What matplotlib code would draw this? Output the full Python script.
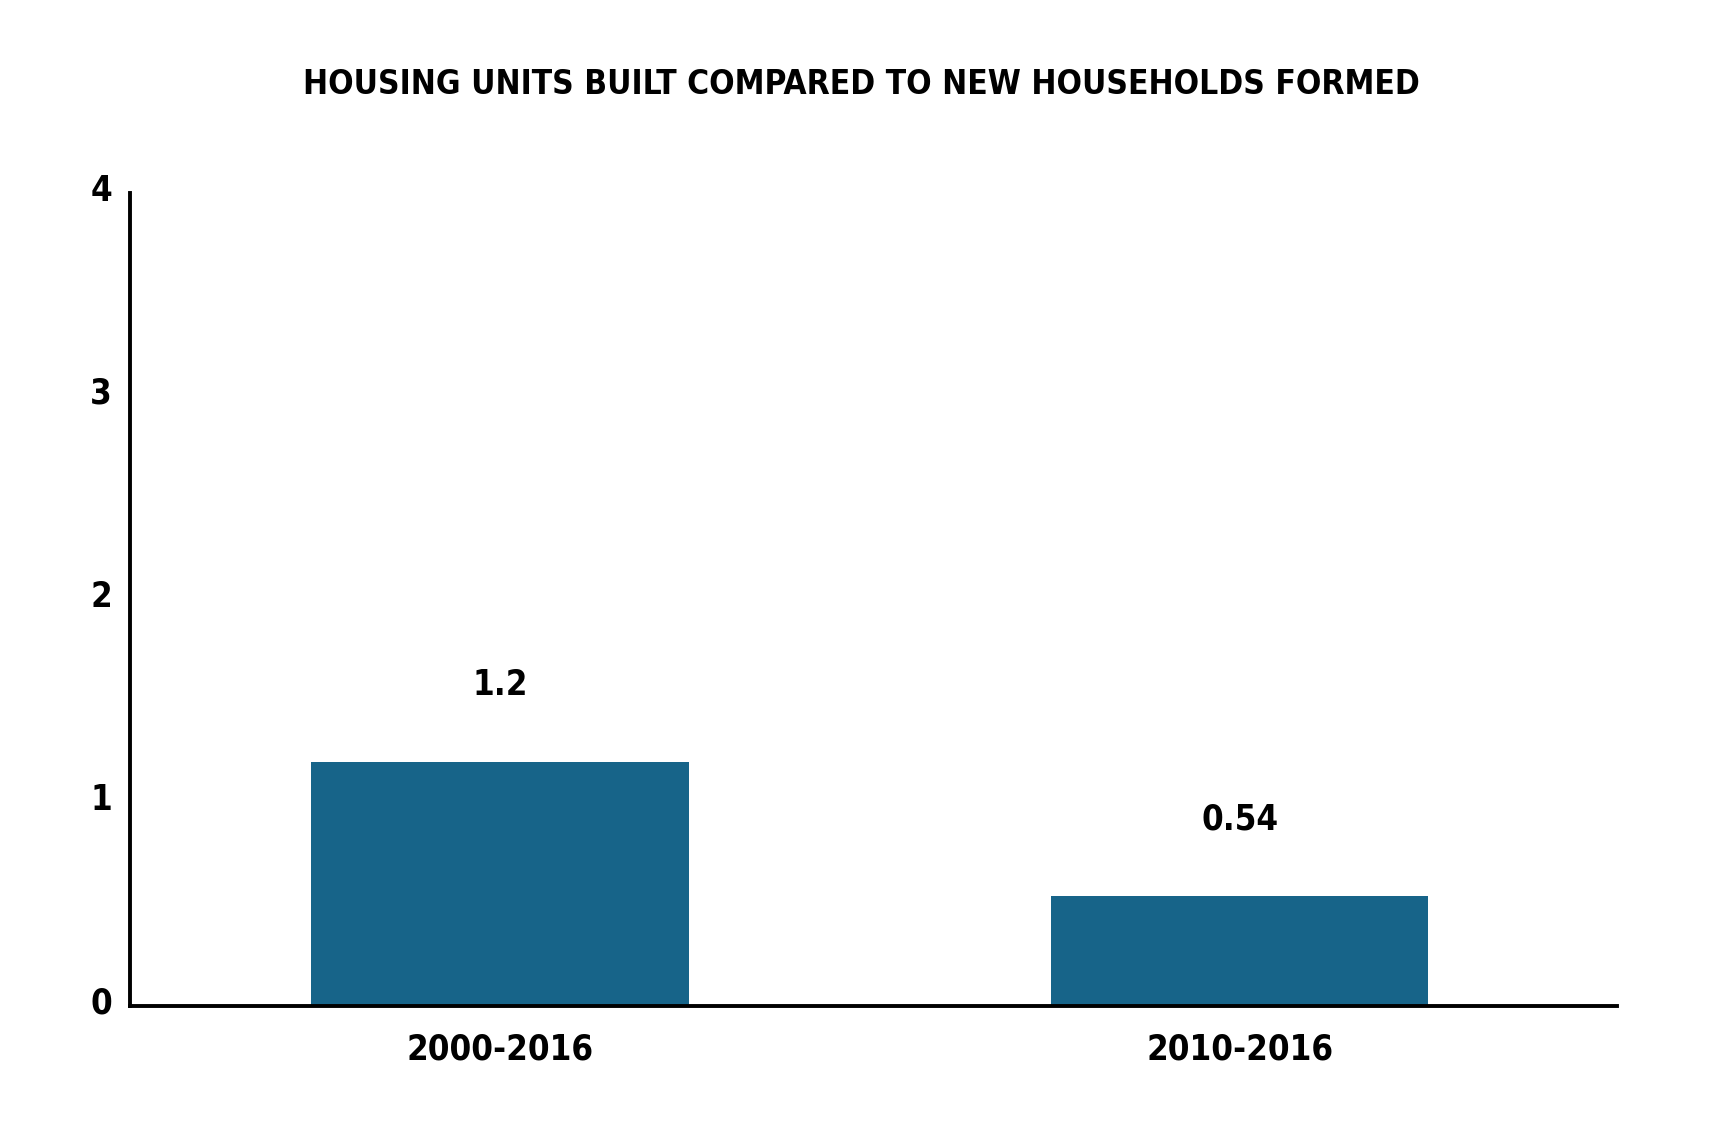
import matplotlib
matplotlib.use("Agg")
import matplotlib.pyplot as plt
import matplotlib.transforms as mtransforms

# Data
periods = ["2000-2016", "2010-2016"]
ratios = [1.2, 0.54]
ratio_labels = ["1.2", "0.54"]
y_ticks = [0, 1, 2, 3, 4]

BAR_COLOR = "#176489"
FS = 25

plt.rcParams["font.family"] = ["DejaVu Sans"]
plt.rcParams["font.stretch"] = "condensed"
plt.rcParams["font.weight"] = "bold"

fig = plt.figure(figsize=(17.22, 11.43), dpi=100)
ax = fig.add_axes([0.0755, 0.1199, 0.8635, 0.7111])

x = list(range(len(periods)))
ax.bar(x, ratios, width=0.51, color=BAR_COLOR, zorder=2)

for xi, v, lab in zip(x, ratios, ratio_labels):
    ax.annotate(lab, (xi, v), xytext=(0, 67), textcoords="offset pixels",
                ha="center", va="baseline", fontsize=FS, fontweight="bold",
                stretch="condensed")

ax.set_xlim(-0.5, 1.51)
ax.set_ylim(0, 4)
ax.set_xticks(x)
ax.set_xticklabels(periods, fontsize=FS, fontweight="bold", stretch="condensed")
ax.set_yticks(y_ticks)
ax.set_yticklabels([str(t) for t in y_ticks], fontsize=FS, fontweight="bold",
                   stretch="condensed")
ax.tick_params(axis="both", length=0)
ax.tick_params(axis="y", pad=13)
ax.tick_params(axis="x", pad=19)

# nudge y labels slightly upward like the original
offset = mtransforms.ScaledTranslation(0, 6 / 100, fig.dpi_scale_trans)
for lbl in ax.get_yticklabels():
    lbl.set_transform(lbl.get_transform() + offset)

for side in ["top", "right"]:
    ax.spines[side].set_visible(False)
for side in ["left", "bottom"]:
    ax.spines[side].set_linewidth(2.8)
    ax.spines[side].set_color("black")

fig.text(0.5, 1 - 85 / 1143, "HOUSING UNITS BUILT COMPARED TO NEW HOUSEHOLDS FORMED",
         ha="center", va="center", fontsize=24, fontweight="bold",
         stretch="condensed")

fig.savefig("out.png", dpi=100, facecolor="white")
